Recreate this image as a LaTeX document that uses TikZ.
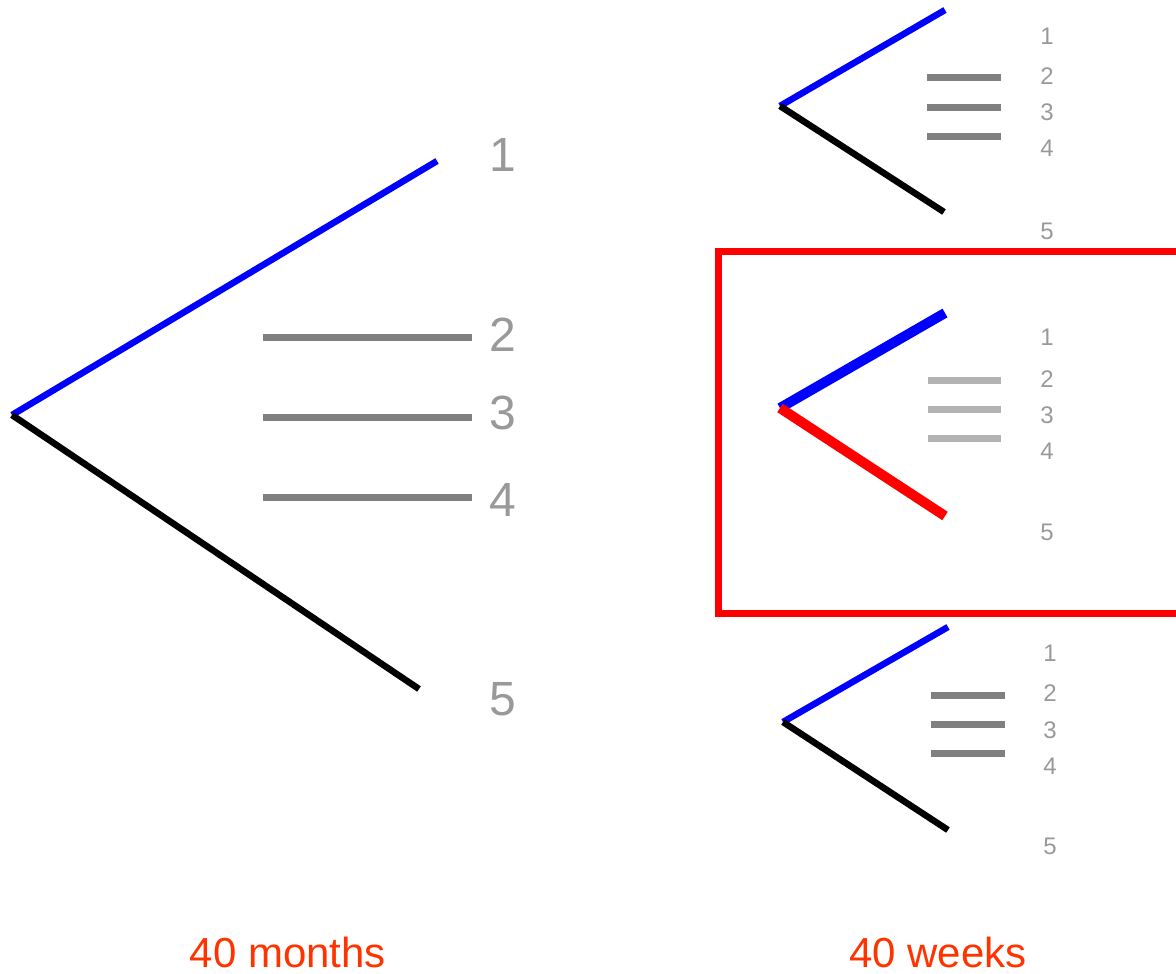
\documentclass[tikz,border=0pt]{standalone}
\usepackage{fontspec}
\setmainfont{Liberation Sans}
\definecolor{lblgray}{HTML}{999999}
\definecolor{bargray}{HTML}{808080}
\definecolor{lightbar}{HTML}{B3B3B3}
\definecolor{capred}{HTML}{FF3300}
\tikzset{
  bignum/.style={inner sep=0pt, text=lblgray, font=\fontsize{48}{48}\selectfont},
  smallnum/.style={inner sep=0pt, text=lblgray, font=\fontsize{24}{24}\selectfont},
  caption/.style={inner sep=0pt, anchor=base, text=capred, font=\fontsize{42}{42}\selectfont},
  bluebranch/.style={draw=blue, line cap=butt},
  blackbranch/.style={draw=black, line cap=butt},
  bar/.style={draw=bargray, line width=7pt},
  lbar/.style={draw=lightbar, line width=7pt},
}
\begin{document}
\begin{tikzpicture}[x=1pt,y=-1pt]
\useasboundingbox (0,0) rectangle (1176,974);
\clip (0,0) rectangle (1176,974);

% ---------- left big tree ----------
\coordinate (L0) at (12,415);
\coordinate (L1) at (437,161);
\coordinate (L5) at (419,689);
\draw[bluebranch, line width=6.5pt] (L0) -- (L1);
\draw[blackbranch, line width=6.5pt] (L0) -- (L5);
\coordinate (Lb2a) at (263,337); \coordinate (Lb2b) at (472,337);
\coordinate (Lb3a) at (263,417); \coordinate (Lb3b) at (472,417);
\coordinate (Lb4a) at (263,497); \coordinate (Lb4b) at (472,497);
\draw[bar] (Lb2a) -- (Lb2b);
\draw[bar] (Lb3a) -- (Lb3b);
\draw[bar] (Lb4a) -- (Lb4b);
\node[bignum] (Ln1) at (503,154.5) {1};
\node[bignum] (Ln2) at (503,335) {2};
\node[bignum] (Ln3) at (503,413) {3};
\node[bignum] (Ln4) at (503,500) {4};
\node[bignum] (Ln5) at (503,699) {5};

% ---------- top right tree ----------
\coordinate (T0) at (780,106);
\coordinate (T1) at (945,10);
\coordinate (T5) at (944,212);
\draw[bluebranch, line width=6.5pt] (T0) -- (T1);
\draw[blackbranch, line width=6.5pt] (T0) -- (T5);
\coordinate (Tb2a) at (927,78);  \coordinate (Tb2b) at (1001,78);
\coordinate (Tb3a) at (927,107); \coordinate (Tb3b) at (1001,107);
\coordinate (Tb4a) at (927,136); \coordinate (Tb4b) at (1001,136);
\draw[bar] (Tb2a) -- (Tb2b);
\draw[bar] (Tb3a) -- (Tb3b);
\draw[bar] (Tb4a) -- (Tb4b);
\node[smallnum] (Tn1) at (1047,36.5) {1};
\node[smallnum] (Tn2) at (1047,76.5) {2};
\node[smallnum] (Tn3) at (1047,112) {3};
\node[smallnum] (Tn4) at (1047,148.5) {4};
\node[smallnum] (Tn5) at (1047,231) {5};

% ---------- middle (highlighted) tree ----------
\coordinate (M0) at (780,408);
\coordinate (M1) at (945,313);
\coordinate (M5) at (945,516);
\draw[bluebranch, line width=10pt] (M0) -- (M1);
\draw[draw=red, line cap=butt, line width=10pt] (M0) -- (M5);
\coordinate (Mb2a) at (928,380); \coordinate (Mb2b) at (1001,380);
\coordinate (Mb3a) at (928,409); \coordinate (Mb3b) at (1001,409);
\coordinate (Mb4a) at (928,438); \coordinate (Mb4b) at (1001,438);
\draw[lbar] (Mb2a) -- (Mb2b);
\draw[lbar] (Mb3a) -- (Mb3b);
\draw[lbar] (Mb4a) -- (Mb4b);
\node[smallnum] (Mn1) at (1047,337.5) {1};
\node[smallnum] (Mn2) at (1047,379) {2};
\node[smallnum] (Mn3) at (1047,415.5) {3};
\node[smallnum] (Mn4) at (1047,451) {4};
\node[smallnum] (Mn5) at (1047,532) {5};
\coordinate (B1) at (1190,251);
\coordinate (B2) at (718,613);
\draw[red, line width=7pt] (B1) -- (B1 -| B2) -- (B2) -- (B2 -| B1);

% ---------- bottom right tree ----------
\coordinate (D0) at (783,722);
\coordinate (D1) at (948,627);
\coordinate (D5) at (948,830);
\draw[bluebranch, line width=6.5pt] (D0) -- (D1);
\draw[blackbranch, line width=6.5pt] (D0) -- (D5);
\coordinate (Db2a) at (931,695); \coordinate (Db2b) at (1005,695);
\coordinate (Db3a) at (931,724); \coordinate (Db3b) at (1005,724);
\coordinate (Db4a) at (931,753); \coordinate (Db4b) at (1005,753);
\draw[bar] (Db2a) -- (Db2b);
\draw[bar] (Db3a) -- (Db3b);
\draw[bar] (Db4a) -- (Db4b);
\node[smallnum] (Dn1) at (1050,653) {1};
\node[smallnum] (Dn2) at (1050,693) {2};
\node[smallnum] (Dn3) at (1050,730) {3};
\node[smallnum] (Dn4) at (1050,766) {4};
\node[smallnum] (Dn5) at (1050,846) {5};

% ---------- captions ----------
\node[caption] (capL) at (288,967) {40 months};
\node[caption] (capR) at (938,967) {40 weeks};
\end{tikzpicture}
\end{document}
